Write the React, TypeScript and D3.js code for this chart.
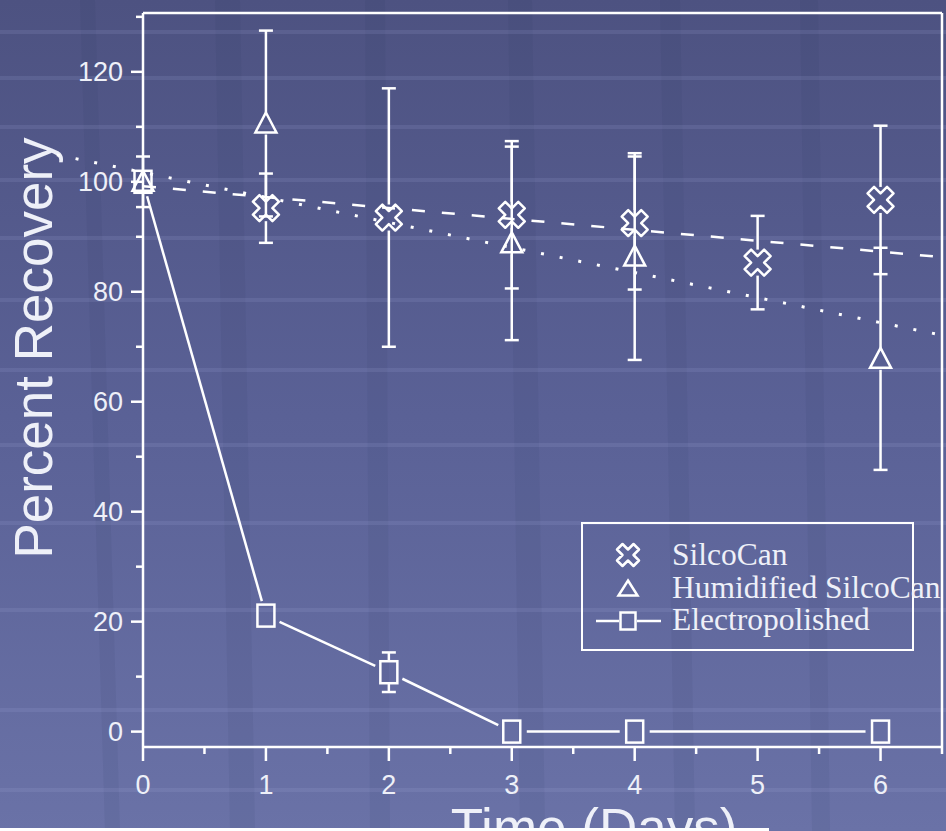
import React from "react";
import * as d3 from "d3";

// ---- data ----
const days = [0, 1, 2, 3, 4, 5, 6];
const silcoCan = [100, 95.2, 93.5, 94.0, 92.5, 85.3, 96.7];
const silcoCanErr = [0, 6.3, 23.5, 13.4, 12.1, 8.5, 13.5];
const humidified: (number | null)[] = [100, 110.6, null, 88.8, 86.4, null, 67.8];
const humidifiedErr: (number | null)[] = [4.6, 16.9, null, 17.6, 18.8, null, 20.2];
const electroDays = [0, 1, 2, 3, 4, 6];
const electropolished = [100, 21.1, 10.8, 0, 0, 0];
const electroErr = [0, 0, 3.6, 0, 0, 0];
const silcoTrend: [number, number][] = [[0, 99.2], [6.5, 86.3]];
const humidTrend: [number, number][] = [[-0.7, 104.9], [6.5, 72.1]];
const xTicks = [0, 1, 2, 3, 4, 5, 6];
const xMinor = [0.5, 1.5, 2.5, 3.5, 4.5, 5.5, 6.5];
const yTicks = [0, 20, 40, 60, 80, 100, 120];
const yMinor = [10, 30, 50, 70, 90, 110, 130];
const legendLabels = ["SilcoCan", "Humidified SilcoCan", "Electropolished"];

const W = 946;
const H = 831;
const L = 143, R = 942, T = 13, B = 747;

const x = d3.scaleLinear().domain([0, 6.5]).range([L, R]);
const y = d3.scaleLinear().domain([-2.8, 130.7]).range([B, T]);

const sans = "'Liberation Sans', Arial, sans-serif";
const serif = "'Liberation Serif', 'Times New Roman', serif";
const WHITE = "#ffffff";
const TXT = "#eef0f8";

const crossPath = (size: number) => {
  const r = size / 2 / 2.83;
  return d3.symbol().type(d3.symbolCross).size(20 * r * r)();
};

function Cross({ cx, cy, s = 26 }: { cx: number; cy: number; s?: number }) {
  return (
    <path
      d={crossPath(s) || ""}
      transform={`translate(${cx},${cy}) rotate(45)`}
      fill="none"
      stroke={WHITE}
      strokeWidth={2.5}
      strokeLinejoin="round"
    />
  );
}

function Tri({ cx, cy, w = 21, h = 20 }: { cx: number; cy: number; w?: number; h?: number }) {
  const p = [
    [cx, cy - h / 2 - 1],
    [cx + w / 2, cy + h / 2 - 1],
    [cx - w / 2, cy + h / 2 - 1],
  ];
  return (
    <path d={`M${p.map((q) => q.join(",")).join("L")}Z`} fill="none" stroke={WHITE} strokeWidth={2.5} strokeLinejoin="miter" />
  );
}

function Sq({ cx, cy, w = 17, h = 22 }: { cx: number; cy: number; w?: number; h?: number }) {
  return <rect x={cx - w / 2} y={cy - h / 2} width={w} height={h} fill="none" stroke={WHITE} strokeWidth={2.5} />;
}

function ErrBar({ t, v, e, gap }: { t: number; v: number; e: number; gap: number }) {
  if (!e) return null;
  const cx = x(t);
  const yc = y(v);
  const yt = y(v + e);
  const yb = y(v - e);
  const cap = 7;
  return (
    <g stroke={WHITE} strokeWidth={2.5}>
      {yc - gap > yt && <line x1={cx} x2={cx} y1={yt} y2={yc - gap} />}
      {yc + gap < yb && <line x1={cx} x2={cx} y1={yc + gap} y2={yb} />}
      <line x1={cx - cap} x2={cx + cap} y1={yt} y2={yt} />
      <line x1={cx - cap} x2={cx + cap} y1={yb} y2={yb} />
    </g>
  );
}

function shortened(x1: number, y1: number, x2: number, y2: number, g: number) {
  const dx = x2 - x1, dy = y2 - y1;
  const len = Math.hypot(dx, dy);
  const ux = dx / len, uy = dy / len;
  return { x1: x1 + ux * g, y1: y1 + uy * g, x2: x2 - ux * g, y2: y2 - uy * g };
}

const hStripes = [32, 78, 127, 180, 238, 300, 370, 445, 523, 610, 710, 790];
const vStreaks = [
  [80, 95, 105, 120],
  [215, 240, 230, 255],
  [365, 385, 370, 390],
  [508, 532, 520, 545],
  [660, 680, 675, 695],
  [800, 818, 812, 830],
];

export default function App() {
  const line = d3.line<[number, number]>().x((d) => x(d[0])).y((d) => y(d[1]));
  const ePts = electroDays.map((t, i) => [x(t), y(electropolished[i])]);

  return (
    <svg width={W} height={H} style={{ position: "fixed", left: 0, top: 0 }} xmlns="http://www.w3.org/2000/svg">
      <defs>
        <linearGradient id="bg" x1="0" y1="0" x2="0" y2="1">
          <stop offset="0%" stopColor="#4d5281" />
          <stop offset="50%" stopColor="#5a6196" />
          <stop offset="100%" stopColor="#6a72a7" />
        </linearGradient>
      </defs>
      <rect x={0} y={0} width={W} height={H} fill="url(#bg)" />
      {/* background texture */}
      {vStreaks.map((s, i) => (
        <path key={"v" + i} d={`M${s[0]},0L${s[1]},0L${s[3]},${H}L${s[2]},${H}Z`} fill="#2a2e55" opacity={0.08} />
      ))}
      {hStripes.map((s, i) => (
        <rect key={"h" + i} x={0} y={s - 2} width={W} height={4} fill="#a8b0e0" opacity={0.14} />
      ))}

      {/* frame */}
      <g stroke={WHITE} strokeWidth={2.5} fill="none">
        <line x1={L} x2={R} y1={T} y2={T} />
        <line x1={R} x2={R} y1={T} y2={B} />
        <line x1={L} x2={R} y1={B} y2={B} />
        <line x1={L} x2={L} y1={T} y2={B} />
      </g>

      {/* axis ticks */}
      <g stroke={WHITE} strokeWidth={2.5}>
        {xTicks.map((t) => (
          <line key={"xt" + t} x1={x(t)} x2={x(t)} y1={B} y2={B + 14} />
        ))}
        {xMinor.map((t) => (
          <line key={"xm" + t} x1={x(t)} x2={x(t)} y1={B} y2={B + 7} />
        ))}
        {yTicks.map((v) => (
          <line key={"yt" + v} x1={L - 12} x2={L} y1={y(v)} y2={y(v)} />
        ))}
        {yMinor.map((v) => (
          <line key={"ym" + v} x1={L - 7} x2={L} y1={y(v)} y2={y(v)} />
        ))}
      </g>
      <g fontFamily={sans} fontSize={27} fill={TXT}>
        {xTicks.map((t) => (
          <text key={"xl" + t} x={x(t)} y={794} textAnchor="middle">
            {t}
          </text>
        ))}
        {yTicks.map((v) => (
          <text key={"yl" + v} x={123} y={y(v) + 9.5} textAnchor="end">
            {v}
          </text>
        ))}
      </g>

      {/* axis titles */}
      <text
        transform="translate(52,348) rotate(-90)"
        textAnchor="middle"
        fontFamily={sans}
        fontSize={53}
        fill={TXT}
      >
        Percent Recovery
      </text>
      <text x={594} y={846} textAnchor="middle" fontFamily={sans} fontSize={53} fill={TXT}>
        Time (Days)
      </text>
      <rect x={0} y={828} width={769} height={3} fill="#ffffff" />

      {/* trend lines */}
      <path d={line(silcoTrend) || ""} fill="none" stroke={WHITE} strokeWidth={2.5} strokeDasharray="13 17" />
      <path d={line(humidTrend) || ""} fill="none" stroke={WHITE} strokeWidth={3} strokeDasharray="3 16" />

      {/* electropolished line */}
      <g stroke={WHITE} strokeWidth={2.5}>
        {ePts.slice(1).map((p, i) => {
          const s = shortened(ePts[i][0], ePts[i][1], p[0], p[1], 15);
          return <line key={"el" + i} {...s} />;
        })}
      </g>

      {/* error bars */}
      {days.map((t, i) => (
        <ErrBar key={"se" + i} t={t} v={silcoCan[i]} e={silcoCanErr[i]} gap={13} />
      ))}
      {days.map((t, i) =>
        humidified[i] != null ? (
          <ErrBar key={"he" + i} t={t} v={humidified[i] as number} e={humidifiedErr[i] as number} gap={11} />
        ) : null
      )}
      {electroDays.map((t, i) => (
        <ErrBar key={"ee" + i} t={t} v={electropolished[i]} e={electroErr[i]} gap={11} />
      ))}

      {/* markers */}
      {days.map((t, i) => (i === 0 ? null : <Cross key={"sm" + i} cx={x(t)} cy={y(silcoCan[i])} />))}
      {days.map((t, i) =>
        humidified[i] != null ? <Tri key={"hm" + i} cx={x(t)} cy={y(humidified[i] as number)} /> : null
      )}
      {electroDays.map((t, i) => (
        <Sq key={"em" + i} cx={x(t)} cy={y(electropolished[i])} />
      ))}

      {/* legend */}
      <rect x={582} y={523} width={331} height={127} fill="none" stroke={WHITE} strokeWidth={2} />
      <Cross cx={628} cy={555} s={22} />
      <Tri cx={628} cy={589} w={19} h={15} />
      <line x1={596} x2={619} y1={621} y2={621} stroke={WHITE} strokeWidth={2.5} />
      <line x1={637} x2={661} y1={621} y2={621} stroke={WHITE} strokeWidth={2.5} />
      <Sq cx={628} cy={621} w={15} h={17} />
      <g fontFamily={serif} fontSize={31.5} fill={TXT}>
        {legendLabels.map((l, i) => (
          <text key={l} x={672} y={565 + i * 32.5}>
            {l}
          </text>
        ))}
      </g>
    </svg>
  );
}
